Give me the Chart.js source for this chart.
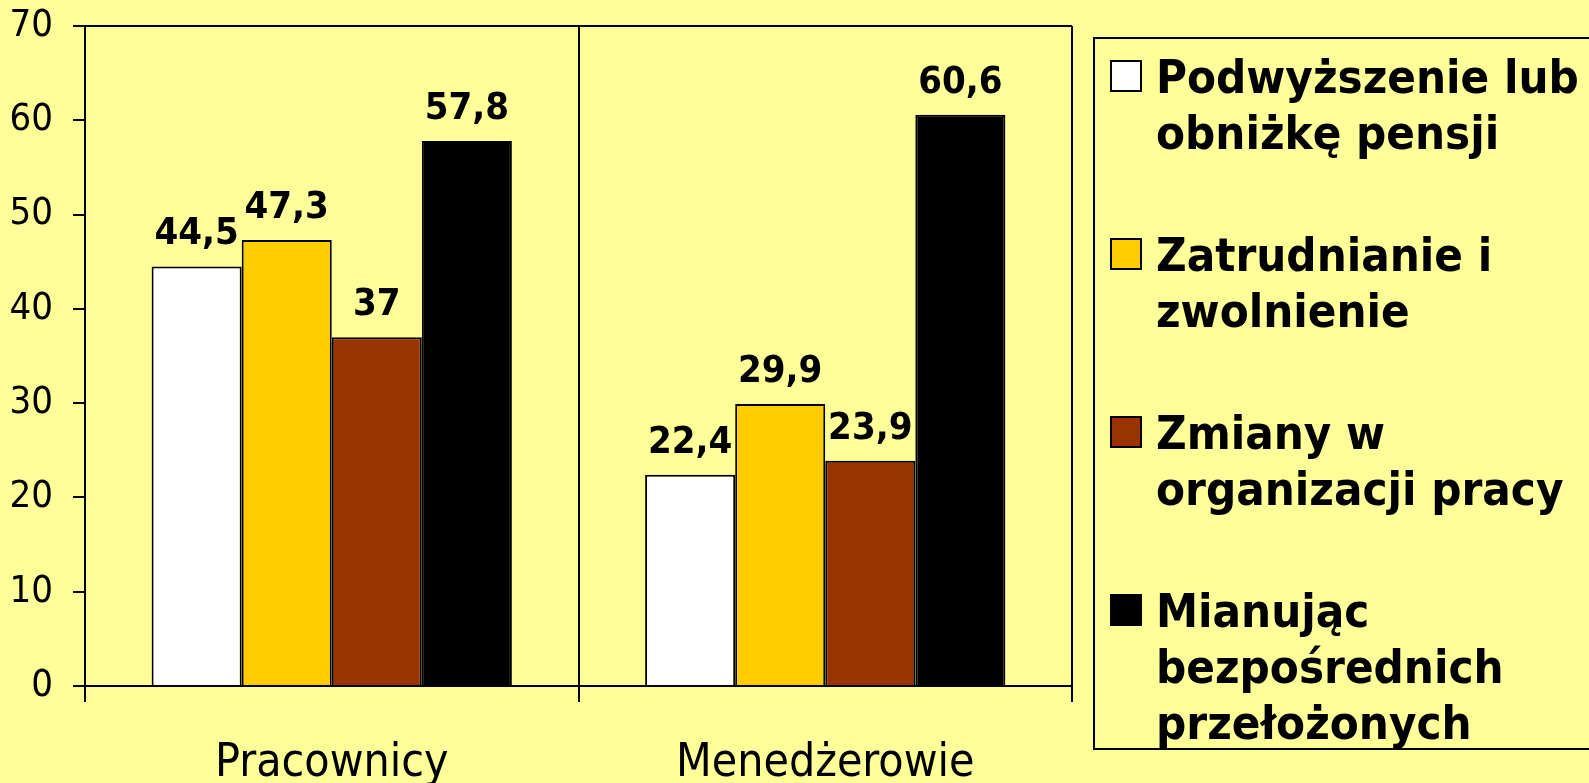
<!DOCTYPE html>
<html>
<head>
<meta charset="utf-8">
<script src="https://cdn.jsdelivr.net/npm/chart.js@4/dist/chart.umd.min.js"></script>
<style>
  html, body { margin: 0; padding: 0; background: #FFFF99; }
  #wrap { width: 1589px; height: 783px; position: relative; }
</style>
</head>
<body>
<div id="wrap"><canvas id="chart"></canvas></div>
<script>
var categories = ['Pracownicy', 'Menedżerowie'];
var seriesNames = [
  'Podwyższenie lub\nobniżkę pensji',
  'Zatrudnianie i\nzwolnienie',
  'Zmiany w\norganizacji pracy',
  'Mianując\nbezpośrednich\nprzełożonych'
];
var podwyzszenie = [44.5, 22.4];
var zatrudnianie = [47.3, 29.9];
var zmiany = [37, 23.9];
var mianujac = [57.8, 60.6];
var yTicks = [0, 10, 20, 30, 40, 50, 60, 70];

var FONT = '"DejaVu Sans Condensed", "DejaVu Sans", sans-serif';
var colors = ['#FFFFFF', '#FFCC00', '#993300', '#000000'];

function fmt(v) {
  return String(v).replace('.', ',');
}

// value labels above every bar
var valueLabels = {
  id: 'valueLabels',
  afterDatasetsDraw: function(chart) {
    var ctx = chart.ctx;
    ctx.save();
    ctx.font = 'bold 38px ' + FONT;
    ctx.fillStyle = '#000';
    ctx.textAlign = 'center';
    ctx.textBaseline = 'alphabetic';
    chart.data.datasets.forEach(function(ds, i) {
      var meta = chart.getDatasetMeta(i);
      meta.data.forEach(function(bar, j) {
        ctx.fillText(fmt(ds.data[j]), bar.x, bar.y - 22);
      });
    });
    ctx.restore();
  }
};

// boxed legend on the right
var boxLegend = {
  id: 'boxLegend',
  afterDraw: function(chart) {
    var ctx = chart.ctx;
    ctx.save();
    ctx.strokeStyle = '#000';
    ctx.lineWidth = 2;
    ctx.strokeRect(1094, 38, 600, 711);
    ctx.font = 'bold 47px ' + FONT;
    ctx.textAlign = 'left';
    ctx.textBaseline = 'alphabetic';
    chart.data.datasets.forEach(function(ds, i) {
      var base = 93 + i * 178;
      ctx.fillStyle = ds.backgroundColor;
      ctx.fillRect(1111, base - 32, 30, 30);
      ctx.lineWidth = 2;
      ctx.strokeStyle = '#000';
      ctx.strokeRect(1111, base - 32, 30, 30);
      ctx.fillStyle = '#000';
      ds.label.split('\n').forEach(function(line, k) {
        ctx.fillText(line, 1156, base + k * 56);
      });
    });
    ctx.restore();
  }
};

var seriesData = [podwyzszenie, zatrudnianie, zmiany, mianujac];
var datasets = seriesNames.map(function(name, i) {
  return {
    label: name,
    data: seriesData[i],
    backgroundColor: colors[i],
    borderColor: '#000',
    borderWidth: 2,
    categoryPercentage: 0.73,
    barPercentage: 1.0
  };
});

new Chart(document.getElementById('chart'), {
  type: 'bar',
  data: { labels: categories, datasets: datasets },
  plugins: [valueLabels, boxLegend],
  options: {
    responsive: true,
    maintainAspectRatio: false,
    animation: false,
    layout: { padding: { top: 26, right: 517, left: 0, bottom: 0 } },
    plugins: {
      legend: { display: false },
      tooltip: { enabled: false }
    },
    scales: {
      x: {
        afterFit: function(scale) { scale.height = 97; },
        grid: {
          offset: true,
          color: '#000',
          lineWidth: 2,
          tickLength: 16,
          drawOnChartArea: true
        },
        border: { color: '#000', width: 2 },
        ticks: {
          color: '#000',
          font: { family: FONT, size: 46 },
          padding: 34
        }
      },
      y: {
        min: 0,
        max: 70,
        afterFit: function(scale) { scale.width = 85; },
        afterBuildTicks: function(scale) {
          scale.ticks = yTicks.map(function(v) { return { value: v }; });
        },
        grid: {
          color: function(c) { return c.tick && c.tick.value === 70 ? '#000' : 'rgba(0,0,0,0)'; },
          tickColor: '#000',
          lineWidth: 2,
          tickLength: 12
        },
        border: { color: '#000', width: 2 },
        ticks: {
          color: '#000',
          font: { family: FONT, size: 38, lineHeight: 0.2 },
          padding: 20
        }
      }
    }
  }
});
</script>
</body>
</html>
